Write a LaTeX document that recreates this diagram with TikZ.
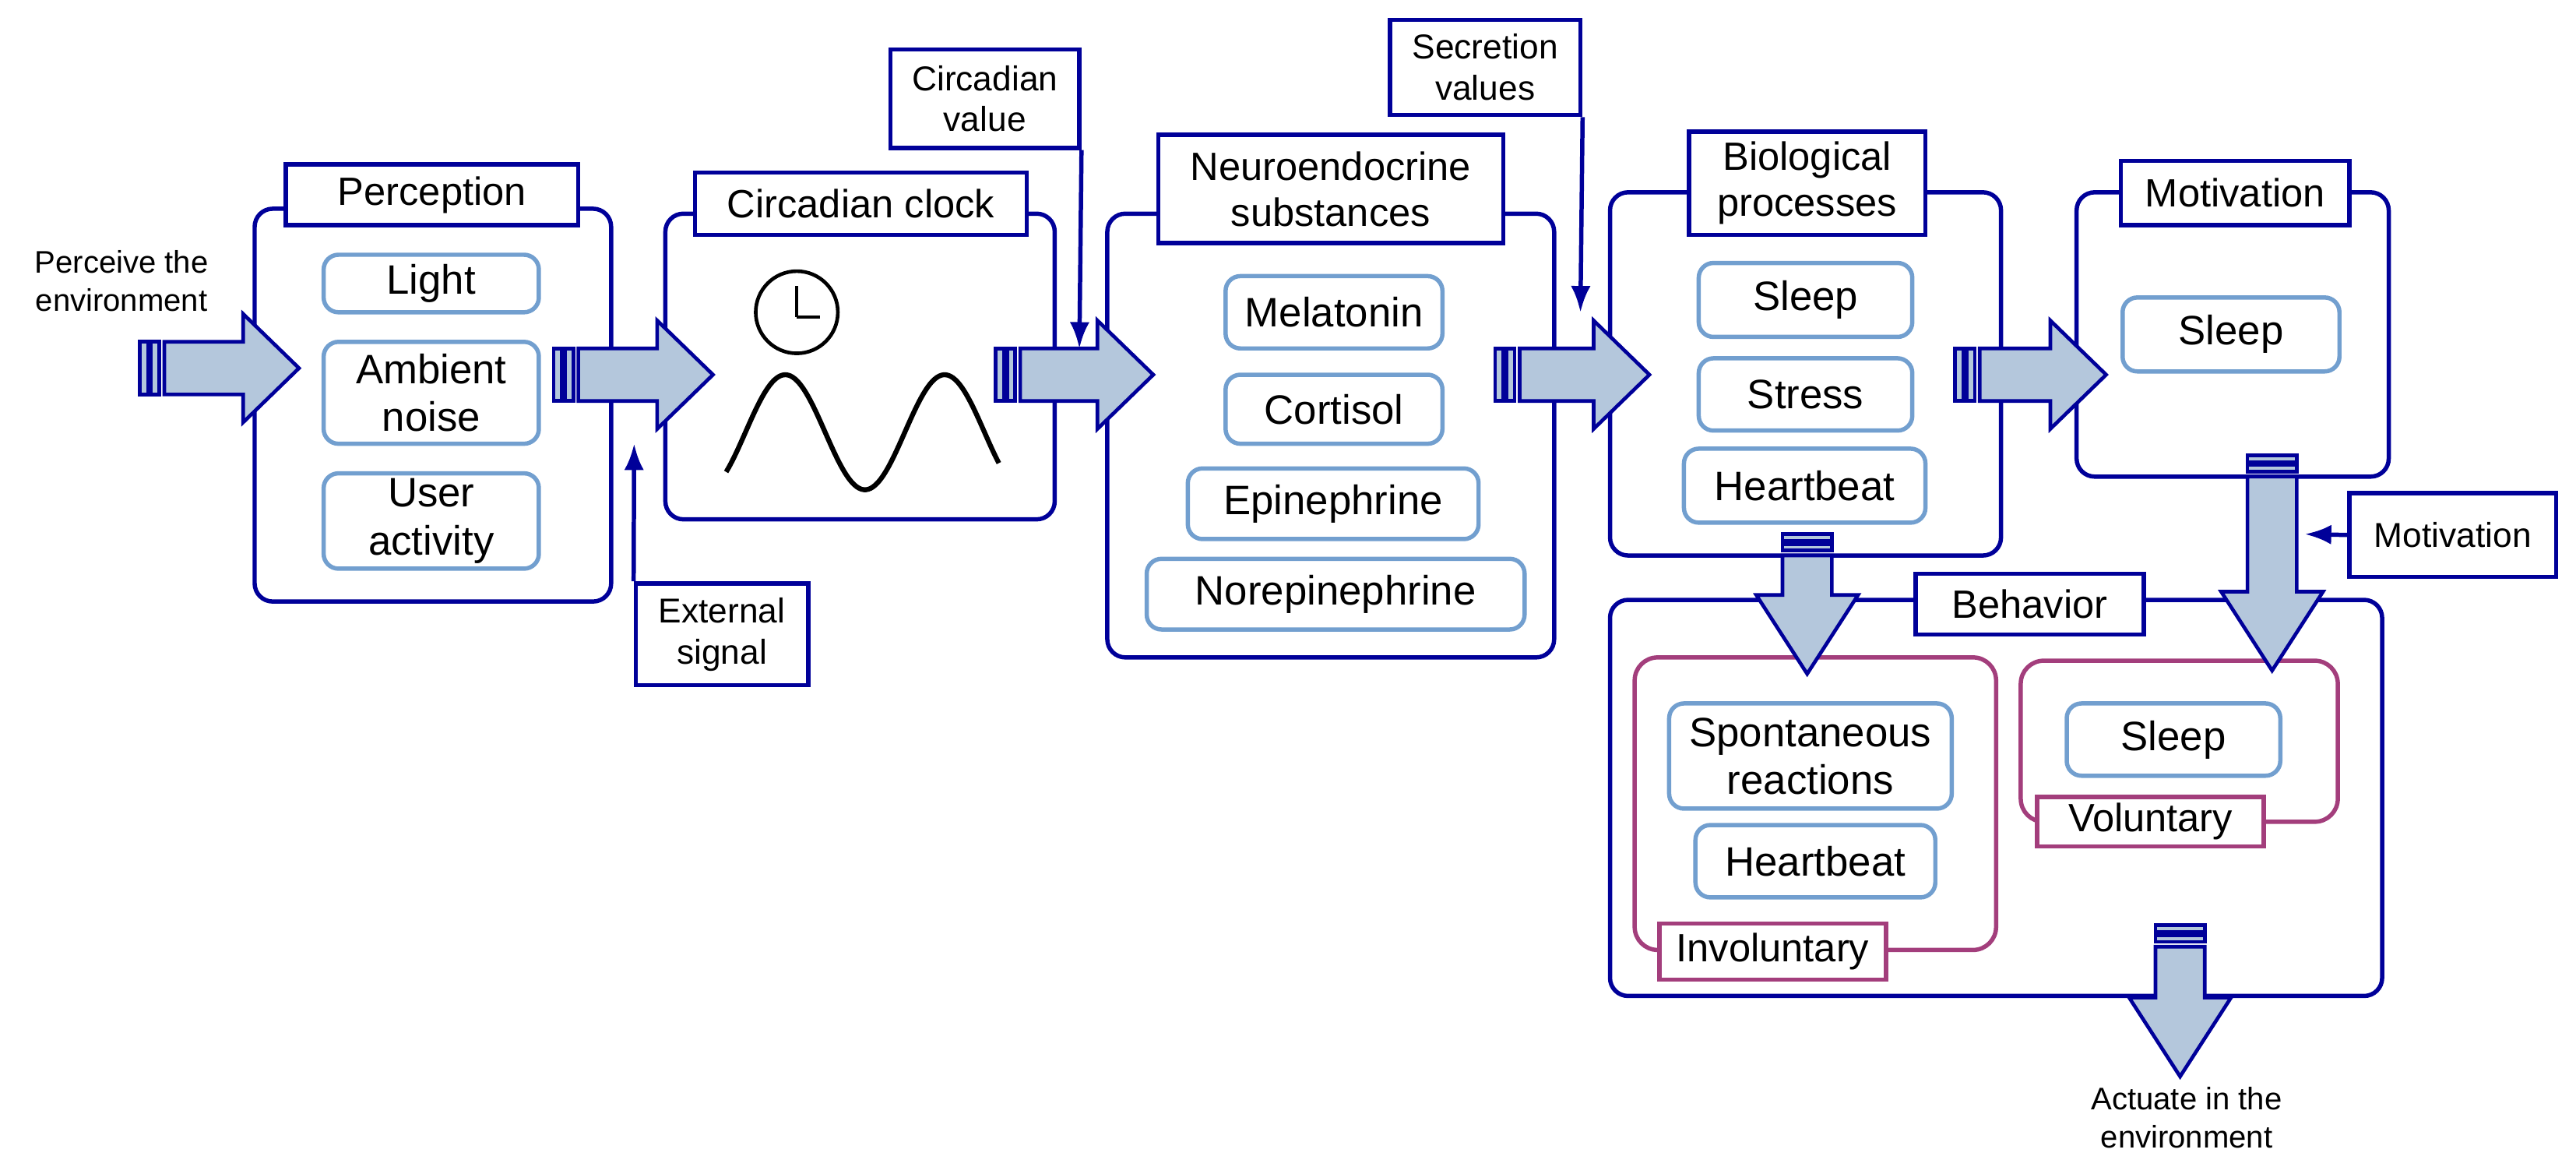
\documentclass[tikz,border=0pt]{standalone}
\usepackage{fontspec}
\setmainfont{Liberation Sans}
\usetikzlibrary{arrows.meta}
\begin{document}
\begin{tikzpicture}[x=1pt,y=-1pt,
  dk/.style={draw=dkblue,line width=2.6pt},
  outer/.style={dk,rounded corners=11pt,fill=white},
  title/.style={dk,fill=white,font=\fontsize{24}{28}\selectfont,align=center},
  lbl/.style={dk,fill=white,font=\fontsize{21}{25}\selectfont,align=center},
  item/.style={draw=ltblue,line width=2.6pt,rounded corners=9pt,fill=white,font=\fontsize{25}{29}\selectfont,align=center},
  mag/.style={draw=magc,line width=2.6pt,rounded corners=14pt},
  magl/.style={draw=magc,line width=2.6pt,fill=white,font=\fontsize{24}{28}\selectfont},
  arr/.style={draw=dkblue,line width=2.2pt,fill=arrfill,line join=miter},
  small/.style={font=\fontsize{19}{23}\selectfont,align=center},
  thin/.style={draw=dkblue,line width=2.6pt,-{Latex[length=16pt,width=12pt]}}]
\definecolor{dkblue}{HTML}{000099}
\definecolor{ltblue}{HTML}{729FCF}
\definecolor{magc}{HTML}{A33E7C}
\definecolor{arrfill}{HTML}{B4C7DC}
\useasboundingbox (0,0) rectangle (1568,714);
\newcommand\bx[7]{\node[#6,minimum width={#4pt-#2pt},minimum height={#5pt-#3pt},inner sep=0pt] (#1) at ({(#2+#4)/2},{(#3+#5)/2}) {#7};}
% right arrow: start x, center y, tip x
\newcommand\rarr[3]{%
  \draw[arr] (#1,#2-16) rectangle ++(5,32);
  \draw[arr] (#1+7,#2-16) rectangle ++(5,32);
  \draw[arr] (#1+15,#2-16) -- (#3-34,#2-16) -- (#3-34,#2-33) -- (#3,#2) -- (#3-34,#2+33) -- (#3-34,#2+16) -- (#1+15,#2+16) -- cycle;}
% down arrow: center x, start y, tip y
\newcommand\darr[3]{%
  \draw[arr] (#1-15,#2) rectangle ++(30,4);
  \draw[arr] (#1-15,#2+6) rectangle ++(30,4);
  \draw[arr] (#1-15,#2+13) -- (#1-15,#3-48) -- (#1-31,#3-48) -- (#1,#3) -- (#1+31,#3-48) -- (#1+15,#3-48) -- (#1+15,#2+13) -- cycle;}

% Perception
\bx{perc}{155}{127}{372}{366}{outer}{}
\bx{perct}{174}{100}{352}{137}{title}{Perception}
\bx{light}{197}{155}{328}{190}{item}{Light}
\bx{noise}{197}{208}{328}{270}{item}{Ambient\\noise}
\bx{user}{197}{288}{328}{346}{item}{User\\activity}
\node[small] (perceive) at (74,171) {Perceive the\\environment};
\rarr{85}{224}{182}
% Circadian clock
\bx{clock}{405}{130}{642}{316}{outer}{}
\bx{clockt}{423}{105}{625}{143}{title}{Circadian clock}
\rarr{337}{228}{434}
\draw[line width=2.2pt] (485,190) circle (25);
\draw[line width=2pt] (485,193) -- (485,174) (485,193) -- (499,193);
\draw[line width=3pt] plot[domain=442:608,samples=120,smooth] (\x,{263-35*cos(3.7113*(\x-478))});
\bx{ext}{387}{355}{492}{417}{lbl}{External\\signal}
\coordinate (extend) at (386,270);
\draw[thin] (ext.north west) -- (extend);
% Neuroendocrine
\bx{neuro}{674}{130}{946}{400}{outer}{}
\bx{neurot}{705}{82}{915}{148}{title}{Neuroendocrine\\substances}
\bx{mel}{746}{168}{878}{212}{item}{Melatonin}
\bx{cort}{746}{228}{878}{270}{item}{Cortisol}
\bx{epi}{723}{285}{900}{328}{item}{Epinephrine}
\bx{nor}{698}{340}{928}{383}{item}{Norepinephrine}
\bx{cval}{542}{30}{657}{90}{lbl}{Circadian\\value}
\coordinate (cvalend) at (657,212);
\draw[thin] (cval.south east) -- (cvalend);
\rarr{606}{228}{702}
% Biological
\bx{bio}{980}{117}{1218}{338}{outer}{}
\bx{biot}{1028}{80}{1172}{143}{title}{Biological\\processes}
\bx{bsleep}{1034}{160}{1164}{205}{item}{Sleep}
\bx{stress}{1034}{218}{1164}{262}{item}{Stress}
\bx{bheart}{1025}{273}{1172}{318}{item}{Heartbeat}
\bx{sval}{846}{12}{962}{70}{lbl}{Secretion\\values}
\coordinate (svalend) at (962,190);
\draw[thin] (sval.south east) -- (svalend);
\rarr{910}{228}{1004}
% Motivation
\bx{mot}{1264}{117}{1454}{290}{outer}{}
\bx{mott}{1291}{98}{1430}{137}{title}{Motivation}
\bx{msleep}{1292}{181}{1424}{226}{item}{Sleep}
\rarr{1190}{228}{1282}
% Behavior
\bx{beh}{980}{365}{1450}{606}{outer}{}
\bx{behtt}{1166}{349}{1305}{386}{title}{Behavior}
\bx{invol}{995}{400}{1215}{578}{mag}{}
\bx{spont}{1016}{428}{1188}{492}{item}{Spontaneous\\reactions}
\bx{iheart}{1032}{502}{1178}{546}{item}{Heartbeat}
\bx{involl}{1010}{562}{1148}{596}{magl}{Involuntary}
\bx{vol}{1230}{402}{1423}{500}{mag}{}
\bx{vsleep}{1258}{428}{1388}{472}{item}{Sleep}
\bx{voll}{1240}{485}{1378}{515}{magl}{Voluntary}
\darr{1100}{325}{410}
\darr{1383}{277}{408}
\bx{motl}{1430}{300}{1556}{351}{lbl}{Motivation}
\coordinate (motlend) at (1403,325);
\draw[thin] (motl.west) -- (motlend);
\darr{1327}{563}{655}
\node[small] (act) at (1331,680) {Actuate in the\\environment};
\end{tikzpicture}
\end{document}
